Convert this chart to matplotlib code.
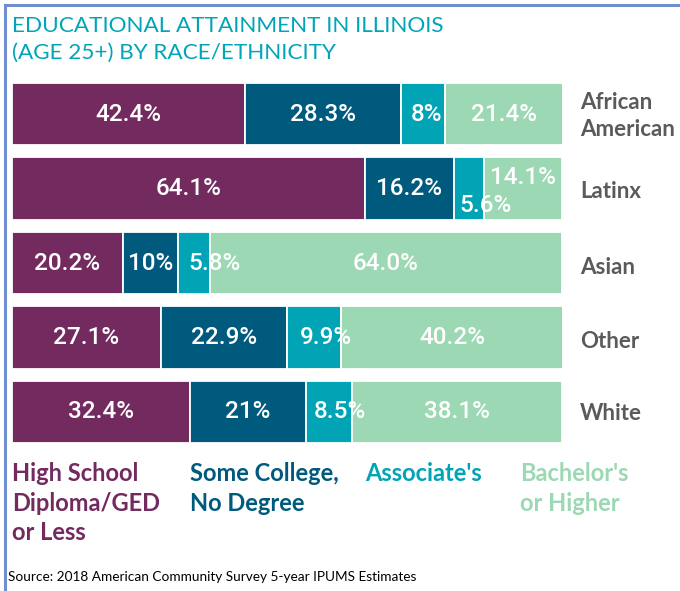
import matplotlib
matplotlib.use("Agg")
import matplotlib.pyplot as plt
from matplotlib.lines import Line2D

groups = ["African\nAmerican", "Latinx", "Asian", "Other", "White"]
levels = ["High School\nDiploma/GED\nor Less", "Some College,\nNo Degree",
          "Associate's", "Bachelor's\nor Higher"]
hs = [42.4, 64.1, 20.2, 27.1, 32.4]
some_college = [28.3, 16.2, 10.0, 22.9, 21.0]
associate = [8.0, 5.6, 5.8, 9.9, 8.5]
bachelor = [21.4, 14.1, 64.0, 40.2, 38.1]
value_text = [
    ["42.4%", "64.1%", "20.2%", "27.1%", "32.4%"],
    ["28.3%", "16.2%", "10%", "22.9%", "21%"],
    ["8%", "5.6%", "5.8%", "9.9%", "8.5%"],
    ["21.4%", "14.1%", "64.0%", "40.2%", "38.1%"],
]

COLORS = ["#722A5F", "#005A7E", "#00A4B5", "#9BD8B3"]
TEAL = "#00A5B8"
GRAY = "#5A5A5A"
W, H = 680, 591

# small nudges (data units) for labels that sit on narrow segments
NUDGE = {(2, 0): (0.7, 0), (2, 1): (3.0, 0.23), (3, 1): (0.0, -0.15),
         (2, 2): (3.8, 0), (2, 3): (2.2, 0), (2, 4): (2.0, 0)}

fig = plt.figure(figsize=(W / 100, H / 100), dpi=100)
fig.patch.set_facecolor("white")

# bar area in pixels: x 12..562, rows centred 114..411
ax = fig.add_axes([12 / W, 1 - 449 / H, 550 / W, 372 / H])
ax.set_xlim(0, 100)
ax.set_ylim(4.5, -0.5)
ax.axis("off")

series = [hs, some_college, associate, bachelor]
rows = range(len(groups))
left = [0.0] * len(groups)
for k, vals in enumerate(series):
    ax.barh(rows, vals, left=left, height=0.84, color=COLORS[k],
            edgecolor="white", linewidth=1.3)
    for i, v in enumerate(vals):
        dx, dy = NUDGE.get((k, i), (0, 0))
        ax.text(left[i] + v / 2 + dx, i + dy, value_text[k][i], color="white",
                ha="center", va="center", fontsize=17.5, fontfamily="Roboto",
                fontweight="medium")
    left = [a + b for a, b in zip(left, vals)]

for i, g in enumerate(groups):
    fig.text(580 / W, 1 - [116, 191, 267, 342, 414][i] / H, g, color=GRAY,
             ha="left", va="center", fontsize=16, fontfamily="Lato",
             fontweight="bold", linespacing=1.35)

fig.text(12 / W, 1 - 16 / H, "EDUCATIONAL ATTAINMENT IN ILLINOIS\n(AGE 25+) BY RACE/ETHNICITY",
         color=TEAL, ha="left", va="top", fontsize=16.2, fontfamily="Lato",
         linespacing=1.45)

for k, lab in enumerate(levels):
    fig.text([12, 190, 365, 520][k] / W, 1 - 462 / H, lab, color=COLORS[k],
             ha="left", va="top", fontsize=17,
             fontfamily=["Liberation Sans Narrow", "Lato"], fontweight="bold",
             linespacing=1.35)

fig.text(8 / W, 1 - 577 / H, "Source: 2018 American Community Survey 5-year IPUMS Estimates",
         color="black", ha="left", va="center", fontsize=9.8, fontfamily="Lato")

# frame lines along the top and left edge
border = "#6F8FCF"
fig.add_artist(Line2D([4.5 / W, 4.5 / W], [0, 1 - 4.5 / H], transform=fig.transFigure,
                      color=border, linewidth=2.2))
fig.add_artist(Line2D([4.5 / W, 1], [1 - 4.5 / H, 1 - 4.5 / H], transform=fig.transFigure,
                      color=border, linewidth=2.2))

fig.savefig("out.png", dpi=100, facecolor="white")
